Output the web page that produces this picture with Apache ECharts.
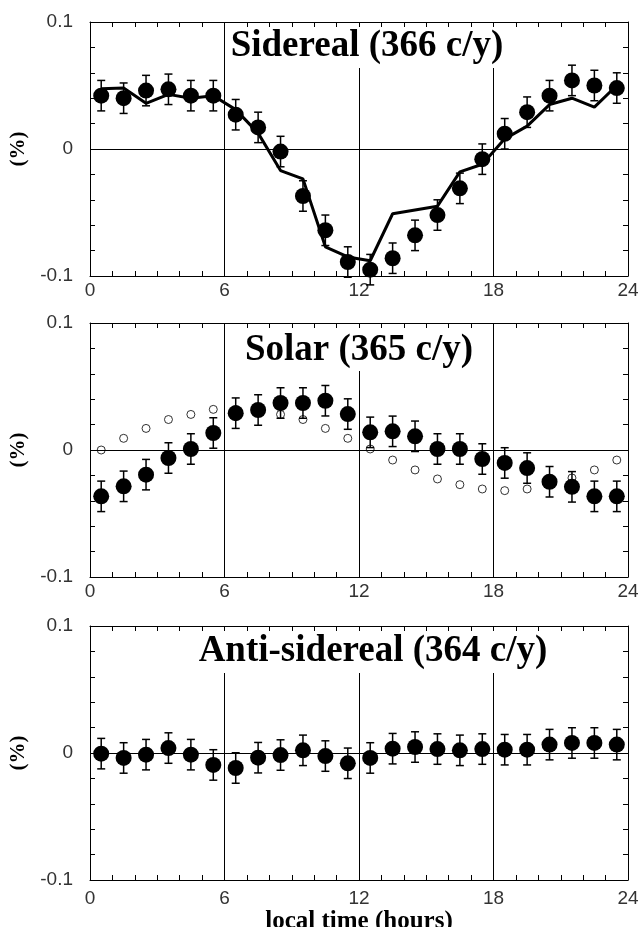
<!DOCTYPE html>
<html>
<head>
<meta charset="utf-8">
<script src="https://cdn.jsdelivr.net/npm/echarts@6/dist/echarts.min.js"></script>
<style>
  html, body { margin: 0; padding: 0; background: #fff; }
  #chart { width: 641px; height: 927px; }
</style>
</head>
<body>
<div id="chart"></div>
<script>
// hour bins (centres)
var hours = [0.5, 1.5, 2.5, 3.5, 4.5, 5.5, 6.5, 7.5, 8.5, 9.5, 10.5, 11.5,
             12.5, 13.5, 14.5, 15.5, 16.5, 17.5, 18.5, 19.5, 20.5, 21.5, 22.5, 23.5];

// sidereal (366 c/y) observed + expected curve
var siderealObs = [0.042, 0.040, 0.046, 0.047, 0.042, 0.042, 0.027, 0.017, -0.002, -0.037, -0.064, -0.089,
                   -0.095, -0.086, -0.068, -0.052, -0.031, -0.008, 0.012, 0.029, 0.042, 0.054, 0.050, 0.048];
var siderealModel = [0.0475, 0.048, 0.036, 0.043, 0.040, 0.042, 0.031, 0.0125, -0.017, -0.0235, -0.077, -0.085,
                     -0.088, -0.051, -0.048, -0.045, -0.018, -0.012, 0.008, 0.018, 0.035, 0.040, 0.033, 0.050];

// solar (365 c/y) observed + open circles
var solarObs = [-0.0365, -0.0286, -0.0194, -0.0063, 0.0008, 0.0134, 0.029, 0.0315, 0.037, 0.037, 0.0388, 0.0283,
                0.0139, 0.0147, 0.0108, 0.0008, 0.0008, -0.0071, -0.0102, -0.0142, -0.025, -0.029, -0.0365, -0.0365];
var solarOpen = [0, 0.0092, 0.017, 0.024, 0.028, 0.032, 0.032, 0.031, 0.028, 0.024, 0.017, 0.0092,
                 0.0008, -0.0079, -0.0157, -0.0228, -0.0273, -0.0307, -0.032, -0.0307, -0.027, -0.022, -0.0157, -0.0079];

// anti-sidereal (364 c/y)
var antiObs = [-0.0005, -0.0039, -0.0013, 0.0039, -0.0013, -0.0094, -0.0118, -0.0037, -0.0016, 0.0021, -0.0024, -0.0081,
               -0.0039, 0.0034, 0.0047, 0.0031, 0.0021, 0.0031, 0.0026, 0.0026, 0.0066, 0.0079, 0.0079, 0.0066];

var errBar = 0.012;

var panelTitles = ['Sidereal (366 c/y)', 'Solar (365 c/y)', 'Anti-sidereal (364 c/y)'];
var xTicks = [0, 6, 12, 18, 24];
var yTicks = [-0.1, 0, 0.1];

var gridTops = [22, 323, 626];
var gridHeight = 254;
var titleX = [363, 355, 369];
var titlePad = [[5, 4, 3, 4], [8, 4, 2, 4], [6, 4, 3, 4]];
var labelMargin = [5, 5, 9];

var black = '#000';
var serif = '"Liberation Serif", "Times New Roman", serif';
var sans = '"Liberation Sans", Arial, sans-serif';

function xAxisFor(i, top) {
  return {
    type: 'value', gridIndex: i, min: xTicks[0], max: xTicks[xTicks.length - 1], interval: 6,
    position: top ? 'top' : 'bottom',
    z: top ? 10 : 0,
    axisLine: { show: true, onZero: false, lineStyle: { color: black, width: 1 } },
    axisTick: { show: true, inside: true, length: 5, lineStyle: { color: black } },
    minorTick: { show: true, splitNumber: 6, length: 5, lineStyle: { color: black } },
    splitLine: { show: !top, lineStyle: { color: black, width: 1 } },
    axisLabel: { show: !top, margin: labelMargin[i], color: '#333', fontFamily: sans, fontSize: 19 },
    name: (!top && i === 2) ? 'local time (hours)' : '',
    nameLocation: 'middle', nameGap: 17,
    nameTextStyle: { fontFamily: serif, fontWeight: 'bold', fontSize: 25, color: black }
  };
}

function yAxisFor(i, right) {
  return {
    type: 'value', gridIndex: i, min: yTicks[0], max: yTicks[yTicks.length - 1], interval: 0.1,
    position: right ? 'right' : 'left',
    axisLine: { show: true, onZero: false, lineStyle: { color: black, width: 1 } },
    axisTick: { show: true, inside: true, length: 5, lineStyle: { color: black } },
    minorTick: { show: true, splitNumber: 5, length: 5, lineStyle: { color: black } },
    splitLine: { show: !right, lineStyle: { color: black, width: 1 } },
    axisLabel: {
      show: !right, margin: 17, color: '#333', fontFamily: sans, fontSize: 19,
      formatter: function (v) { return Math.abs(v) < 1e-9 ? '0' : v.toFixed(1); }
    },
    name: right ? '' : '(%)',
    nameLocation: 'middle', nameGap: 57, nameRotate: 90,
    nameTextStyle: { fontFamily: serif, fontWeight: 'bold', fontSize: 21, color: black }
  };
}

function errorSeries(i, values) {
  return {
    type: 'custom', xAxisIndex: 2 * i, yAxisIndex: 2 * i, z: 3,
    data: hours.map(function (h, k) { return [h, values[k], errBar]; }),
    renderItem: function (params, api) {
      var x = api.value(0), y = api.value(1), e = api.value(2);
      var hi = api.coord([x, y + e]);
      var lo = api.coord([x, y - e]);
      var w = 4;
      var st = { stroke: black, lineWidth: 1.5 };
      return {
        type: 'group',
        children: [
          { type: 'line', shape: { x1: hi[0], y1: hi[1], x2: lo[0], y2: lo[1] }, style: st },
          { type: 'line', shape: { x1: hi[0] - w, y1: hi[1], x2: hi[0] + w, y2: hi[1] }, style: st },
          { type: 'line', shape: { x1: lo[0] - w, y1: lo[1], x2: lo[0] + w, y2: lo[1] }, style: st }
        ]
      };
    }
  };
}

function dotSeries(i, values) {
  return {
    type: 'scatter', xAxisIndex: 2 * i, yAxisIndex: 2 * i, z: 4,
    symbol: 'circle', symbolSize: 16,
    itemStyle: { color: black, opacity: 1 },
    data: hours.map(function (h, k) { return [h, values[k]]; })
  };
}

var grids = [], xAxes = [], yAxes = [], titles = [], series = [];
for (var i = 0; i < 3; i++) {
  grids.push({ left: 90, right: 13, top: gridTops[i], height: gridHeight, outerBoundsMode: 'none', containLabel: false });
  xAxes.push(xAxisFor(i, false), xAxisFor(i, true));
  yAxes.push(yAxisFor(i, false), yAxisFor(i, true));
  titles.push({
    text: panelTitles[i], left: titleX[i], top: gridTops[i] + 1,
    textAlign: 'center', textVerticalAlign: 'top',
    padding: titlePad[i], backgroundColor: '#fff',
    textStyle: { fontFamily: serif, fontWeight: 'bold', fontSize: 37, color: black }
  });
}

// sidereal expectation line
series.push({
  type: 'line', xAxisIndex: 0, yAxisIndex: 0, z: 2,
  showSymbol: false, symbol: 'none',
  lineStyle: { color: black, width: 3 },
  data: hours.map(function (h, k) { return [h, siderealModel[k]]; })
});
series.push(errorSeries(0, siderealObs), dotSeries(0, siderealObs));

// solar open circles
series.push({
  type: 'scatter', xAxisIndex: 2, yAxisIndex: 2, z: 2,
  symbol: 'circle', symbolSize: 8,
  itemStyle: { color: 'rgba(0,0,0,0)', borderColor: black, borderWidth: 1 },
  data: hours.map(function (h, k) { return [h, solarOpen[k]]; })
});
series.push(errorSeries(1, solarObs), dotSeries(1, solarObs));

series.push(errorSeries(2, antiObs), dotSeries(2, antiObs));

var chart = echarts.init(document.getElementById('chart'), null, { renderer: 'canvas' });
chart.setOption({
  backgroundColor: '#fff',
  animation: false,
  title: titles,
  grid: grids,
  xAxis: xAxes,
  yAxis: yAxes,
  series: series
});
</script>
</body>
</html>
